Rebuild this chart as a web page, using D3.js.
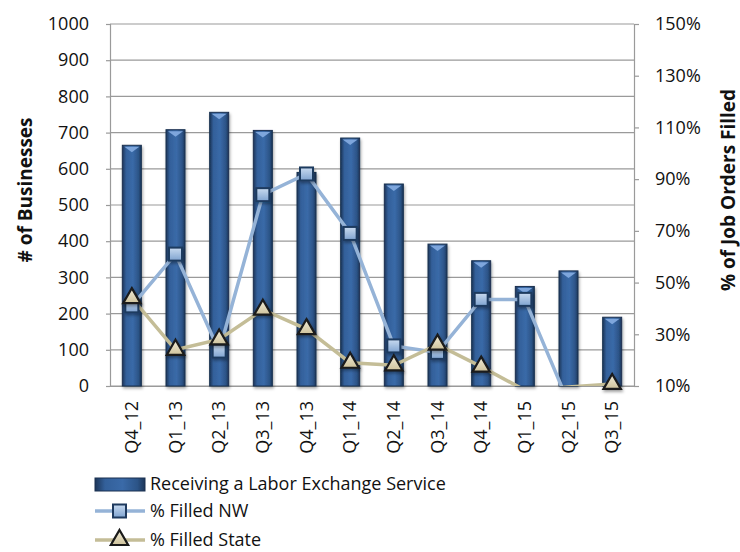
<!DOCTYPE html>
<html>
<head>
<meta charset="utf-8">
<script src="https://cdn.jsdelivr.net/npm/d3@7/dist/d3.min.js"></script>
<style>
  body { margin: 0; background: #fff; }
  text { font-family: "Open Sans", "Noto Sans", sans-serif; fill: #111; }
</style>
</head>
<body>
<div class="chart"></div>
<script>
let quarters = ["Q4_12", "Q1_13", "Q2_13", "Q3_13", "Q4_13", "Q1_14", "Q2_14", "Q3_14", "Q4_14", "Q1_15", "Q2_15", "Q3_15"];
let businesses = [665, 708, 756, 706, 590, 685, 558, 392, 346, 275, 318, 190];
let filledNW = [41, 61, 23.5, 84, 92, 69, 25.5, 23, 43.5, 43.5, 3.5, 0];
let filledState = [44, 24, 28, 39.5, 32, 19, 18, 26, 17.5, 8.4, 9.6, 10.8];
let leftTicks = [0, 100, 200, 300, 400, 500, 600, 700, 800, 900, 1000];
let rightTicks = [10, 30, 50, 70, 90, 110, 130, 150];

let svgWidth = 740;
let svgHeight = 552;
let margin = { top: 24, left: 110, right: 106, bottom: 166 };
let width = svgWidth - margin.left - margin.right;
let height = svgHeight - margin.top - margin.bottom;

let svg = d3.select(".chart")
    .append("svg")
    .attr("width", svgWidth)
    .attr("height", svgHeight);

let defs = svg.append("defs");
let barGrad = defs.append("linearGradient").attr("id", "barGrad")
    .attr("x1", "0%").attr("x2", "100%").attr("y1", "0%").attr("y2", "0%");
barGrad.append("stop").attr("offset", "0%").attr("stop-color", "#1c3558");
barGrad.append("stop").attr("offset", "20%").attr("stop-color", "#33609a");
barGrad.append("stop").attr("offset", "55%").attr("stop-color", "#3a6aa8");
barGrad.append("stop").attr("offset", "85%").attr("stop-color", "#2c5487");
barGrad.append("stop").attr("offset", "100%").attr("stop-color", "#1c3558");
let sqGrad = defs.append("linearGradient").attr("id", "sqGrad")
    .attr("x1", "0%").attr("x2", "0%").attr("y1", "0%").attr("y2", "100%");
sqGrad.append("stop").attr("offset", "0%").attr("stop-color", "#c9dbf0");
sqGrad.append("stop").attr("offset", "100%").attr("stop-color", "#7fa3d0");
let triGrad = defs.append("linearGradient").attr("id", "triGrad")
    .attr("x1", "0%").attr("x2", "0%").attr("y1", "0%").attr("y2", "100%");
triGrad.append("stop").attr("offset", "0%").attr("stop-color", "#f2ecd8");
triGrad.append("stop").attr("offset", "100%").attr("stop-color", "#cfc39c");
let shadow = defs.append("filter").attr("id", "shadow")
    .attr("x", "-50%").attr("y", "-50%").attr("width", "200%").attr("height", "200%");
shadow.append("feDropShadow").attr("dx", 1).attr("dy", 2).attr("stdDeviation", 1.5)
    .attr("flood-color", "#000").attr("flood-opacity", 0.35);
defs.append("clipPath").attr("id", "plotClip")
    .append("rect").attr("x", 0).attr("y", 0).attr("width", width).attr("height", height);

let chartgroup = svg.append("g")
    .attr("transform", `translate(${margin.left}, ${margin.top})`);

let xScale = d3.scaleBand().domain(quarters).range([0, width]);
let yLeft = d3.scaleLinear().domain([0, 1000]).range([height, 0]);
let yRight = d3.scaleLinear().domain([10, 150]).range([height, 0]);

// gridlines
chartgroup.append("g")
    .selectAll("line")
    .data(leftTicks)
    .enter()
    .append("line")
    .attr("x1", 0)
    .attr("x2", width)
    .attr("y1", d => yLeft(d))
    .attr("y2", d => yLeft(d))
    .attr("stroke", "#9a9a9a")
    .attr("stroke-width", 1.2);

// left axis
let leftAxis = d3.axisLeft(yLeft).tickValues(leftTicks).tickSize(4).tickPadding(17)
    .tickFormat(d3.format("d"));
let gl = chartgroup.append("g").call(leftAxis);
gl.select(".domain").attr("stroke", "#9a9a9a").attr("stroke-width", 1.2);
gl.selectAll(".tick line").attr("stroke", "#9a9a9a").attr("stroke-width", 1.2);
gl.selectAll("text").style("font-size", "18px").attr("fill", "#111");

// right axis
let rightAxis = d3.axisRight(yRight).tickValues(rightTicks).tickSize(5).tickPadding(16)
    .tickFormat(d => d + "%");
let gr = chartgroup.append("g").attr("transform", `translate(${width}, 0)`).call(rightAxis);
gr.select(".domain").attr("stroke", "#9a9a9a").attr("stroke-width", 1.2);
gr.selectAll(".tick line").attr("stroke", "#9a9a9a").attr("stroke-width", 1.2);
gr.selectAll("text").style("font-size", "18px").attr("fill", "#111");

// bottom axis
let bottomAxis = d3.axisBottom(xScale).tickSize(0).tickPadding(0);
let gb = chartgroup.append("g").attr("transform", `translate(0, ${height})`).call(bottomAxis);
gb.select(".domain").attr("stroke", "#9a9a9a").attr("stroke-width", 1.2);
gb.selectAll("text")
    .style("font-size", "18px")
    .attr("fill", "#111")
    .attr("text-anchor", "end")
    .attr("dy", "0.35em")
    .attr("transform", "translate(0, 15) rotate(-90)")
    .attr("x", 0)
    .attr("y", 0);

// bars
let barW = 19;
let bars = chartgroup.append("g").selectAll("g")
    .data(quarters)
    .enter()
    .append("g")
    .attr("transform", (d, i) => `translate(${xScale(d) + xScale.bandwidth() / 2 - barW / 2}, ${yLeft(businesses[i])})`);
bars.append("rect")
    .attr("width", barW)
    .attr("height", (d, i) => height - yLeft(businesses[i]))
    .attr("fill", "url(#barGrad)")
    .attr("stroke", "#1b3150")
    .attr("stroke-width", 1)
    .attr("filter", "url(#shadow)");
bars.append("path")
    .attr("d", `M2,1.5 L${barW - 2},1.5 L${barW / 2},7 Z`)
    .attr("fill", "#7ea6dc");

// lines
let lineNW = d3.line()
    .x((d, i) => xScale(quarters[i]) + xScale.bandwidth() / 2)
    .y(d => yRight(d));
chartgroup.append("path")
    .datum(filledNW)
    .attr("clip-path", "url(#plotClip)")
    .attr("d", lineNW)
    .attr("fill", "none")
    .attr("stroke", "#95b3d7")
    .attr("stroke-width", 3.5);
chartgroup.append("path")
    .datum(filledState)
    .attr("clip-path", "url(#plotClip)")
    .attr("d", lineNW)
    .attr("fill", "none")
    .attr("stroke", "#c4bd97")
    .attr("stroke-width", 3.5);

let inRange = v => v >= 10 && v <= 150;

// NW markers
chartgroup.append("g").selectAll("rect")
    .data(filledNW.map((v, i) => ({ v: v, q: quarters[i] })).filter(d => inRange(d.v)))
    .enter()
    .append("rect")
    .attr("x", d => xScale(d.q) + xScale.bandwidth() / 2 - 6.5)
    .attr("y", d => yRight(d.v) - 6.5)
    .attr("width", 13)
    .attr("height", 13)
    .attr("fill", "url(#sqGrad)")
    .attr("stroke", "#1f3a5f")
    .attr("stroke-width", 2)
    .attr("filter", "url(#shadow)");

// State markers
let tri = d3.symbol().type(d3.symbolTriangle).size(130);
chartgroup.append("g").selectAll("path")
    .data(filledState.map((v, i) => ({ v: v, q: quarters[i] })).filter(d => inRange(d.v)))
    .enter()
    .append("path")
    .attr("d", tri)
    .attr("transform", d => `translate(${xScale(d.q) + xScale.bandwidth() / 2}, ${yRight(d.v)})`)
    .attr("fill", "url(#triGrad)")
    .attr("stroke", "#1a1a1a")
    .attr("stroke-width", 2.2)
    .attr("filter", "url(#shadow)");

// axis titles
svg.append("text")
    .attr("transform", "translate(32, 190) rotate(-90)")
    .attr("text-anchor", "middle")
    .style("font-size", "19px")
    .style("font-weight", "bold")
    .text("# of Businesses");
svg.append("text")
    .attr("transform", "translate(735, 190) rotate(-90)")
    .attr("text-anchor", "middle")
    .style("font-size", "19px")
    .style("font-weight", "bold")
    .text("% of Job Orders Filled");

// legend
let legend = svg.append("g").attr("transform", "translate(95, 484)");
legend.append("rect")
    .attr("x", 0).attr("y", -6).attr("width", 50).attr("height", 13)
    .attr("fill", "url(#barGrad)").attr("stroke", "#1b3150");
legend.append("text").attr("x", 55).attr("y", 0).attr("dy", "0.35em")
    .style("font-size", "18px").text("Receiving a Labor Exchange Service");
legend.append("line")
    .attr("x1", 0).attr("x2", 50).attr("y1", 27).attr("y2", 27)
    .attr("stroke", "#95b3d7").attr("stroke-width", 3.5);
legend.append("rect")
    .attr("x", 18).attr("y", 20.5).attr("width", 13).attr("height", 13)
    .attr("fill", "url(#sqGrad)").attr("stroke", "#1f3a5f").attr("stroke-width", 2);
legend.append("text").attr("x", 55).attr("y", 27).attr("dy", "0.35em")
    .style("font-size", "18px").text("% Filled NW");
legend.append("line")
    .attr("x1", 0).attr("x2", 50).attr("y1", 56).attr("y2", 56)
    .attr("stroke", "#c4bd97").attr("stroke-width", 3.5);
legend.append("path")
    .attr("d", tri)
    .attr("transform", "translate(24.5, 56)")
    .attr("fill", "url(#triGrad)").attr("stroke", "#1a1a1a").attr("stroke-width", 2.2);
legend.append("text").attr("x", 55).attr("y", 56).attr("dy", "0.35em")
    .style("font-size", "18px").text("% Filled State");
</script>
</body>
</html>
